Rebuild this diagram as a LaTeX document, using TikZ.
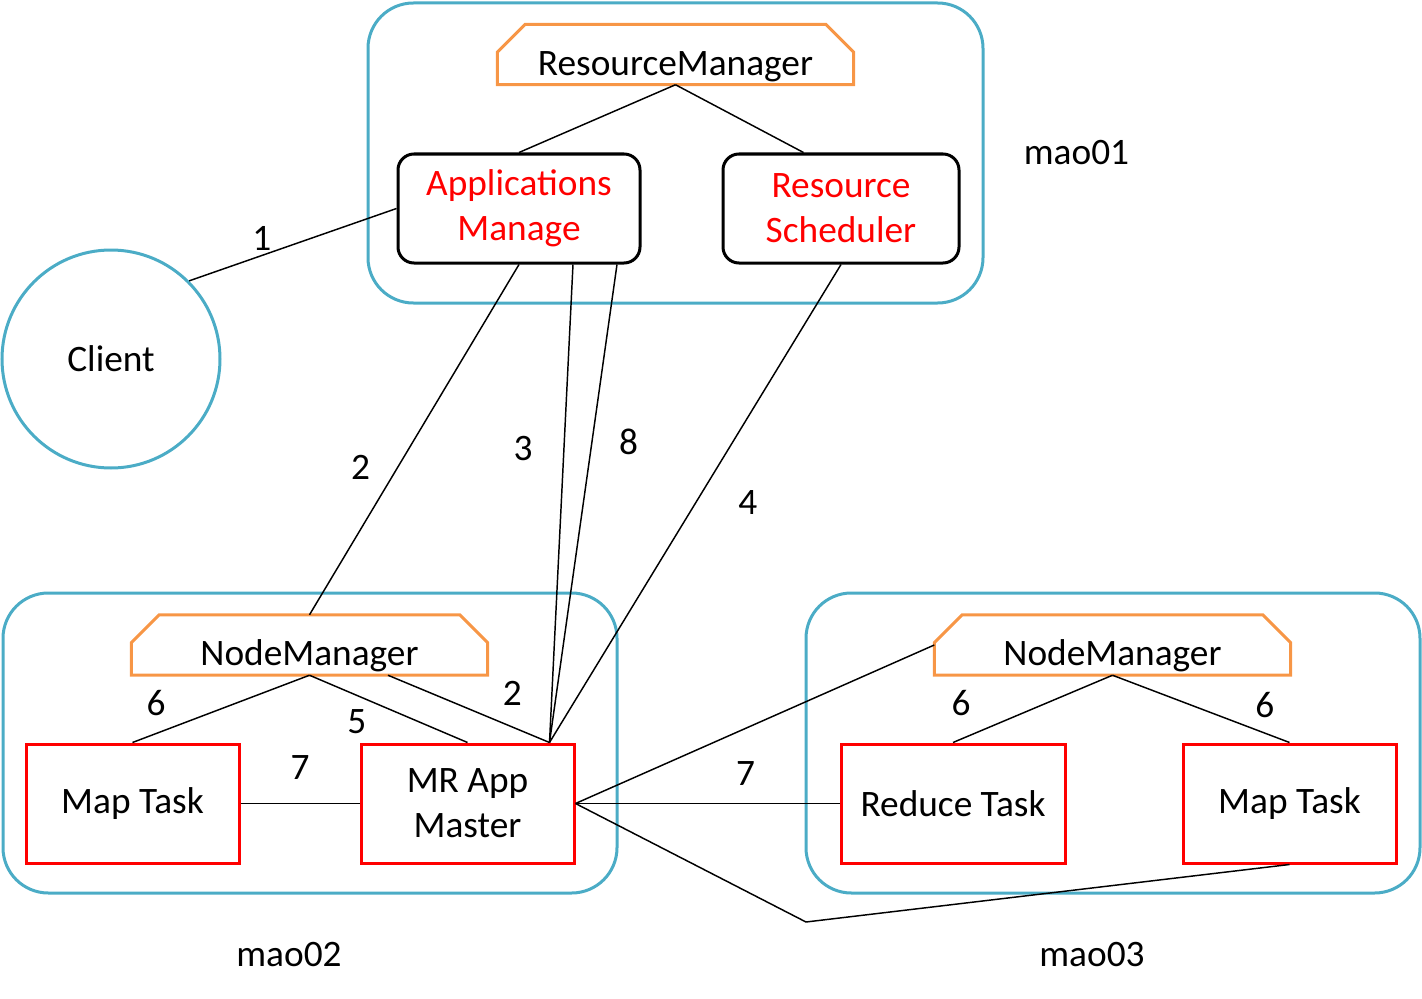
\documentclass[tikz,border=0pt]{standalone}
\usepackage{fontspec}
\setmainfont{Carlito}
\usepackage{tikz}
\usetikzlibrary{positioning, calc}
\definecolor{hostblue}{HTML}{4BACC6}
\definecolor{mgrorange}{HTML}{F79646}
\tikzset{
    host/.style={draw=hostblue, line width=2.25pt, rounded corners=34pt, minimum height=225pt},
    hostname/.style={inner sep=0pt},
    manager/.style={inner sep=0pt, minimum width=266.25pt, minimum height=44.25pt,
        text height=36pt, text depth=5pt},
    mgrline/.style={draw=mgrorange, line width=2.25pt},
    ctrl/.style={draw, line width=2.25pt, rounded corners=12pt, text=red, align=center,
        minimum width=181.5pt, minimum height=81.75pt},
    task/.style={draw=red, line width=2.25pt, align=center, minimum width=159.75pt, minimum height=89.25pt},
    client/.style={circle, draw=hostblue, line width=2.25pt, minimum size=163.5pt},
    num/.style={inner sep=0pt},
}
% outline with the two top corners cut off
\newcommand{\mgrframe}[1]{%
    \draw[mgrline] ([yshift=-21pt]#1.north west) -- ([xshift=21pt]#1.north west)
        -- ([xshift=-21pt]#1.north east) -- ([yshift=-21pt]#1.north east)
        -- (#1.south east) -- (#1.south west) -- cycle;}

\begin{document}
\begin{tikzpicture}[x=0.75pt, y=-0.75pt, line width=1.1pt, font=\fontsize{28}{33.75}\selectfont]
    \useasboundingbox (0,0) rectangle (1422,999);

    % hosts
    \node[host, minimum width=461.25pt] (box1) at (675.5,153) {};
    \node[host, minimum width=460.5pt] (box2) at (310,743) {};
    \node[host, minimum width=460.5pt] (box3) at (1113,743) {};
    \node[hostname, right=29pt of box1] (name1) {mao01};
    \node[hostname, below=35pt of box2, xshift=-15.75pt] (name2) {mao02};
    \node[hostname, below=35pt of box3, xshift=-15.75pt] (name3) {mao03};

    \node[manager] (rm) at (675.5,54.5) {ResourceManager};
    \mgrframe{rm}
    \node[ctrl] (am) at (519,208.5) {Applications\\Manage};
    \node[ctrl, minimum width=177pt] (rs) at (841,208.5) {Resource\\Scheduler};
    \node[client] (cl) at (111,359) {Client};

    \node[manager] (nm2) at (309.5,645) {NodeManager};
    \mgrframe{nm2}
    \node[task] (mt2) at (132.5,803.5) {Map Task};
    \node[task] (mr) at (467.5,803.5) {MR App\\Master};

    \node[manager] (nm3) at (1112.5,645) {NodeManager};
    \mgrframe{nm3}
    \node[task, minimum width=168pt] (rt) at (953,803.5) {Reduce Task};
    \node[task] (mt3) at (1289.5,803.5) {Map Task};

    \coordinate (mrtop) at ([xshift=-19.5pt]mr.north east);
    \coordinate (bend) at (806,922);

    \draw (rm.south) -- (am.north);
    \draw (rm.south) -- ([xshift=61.5pt]rs.north west);
    \draw (cl.45) -- node[num, pos=0.35, yshift=13pt]{1} (am.west);

    \draw (am.south) -- node[num, pos=0.58, xshift=-27.75pt]{2} (nm2.north);
    \draw ([xshift=40.5pt]am.south) -- node[num, pos=0.384, xshift=-30.75pt]{3} (mrtop);
    \draw ([xshift=73.5pt]am.south) -- node[num, pos=0.371, xshift=27.5pt]{8} (mrtop);
    \draw (rs.south) -- node[num, pos=0.498, xshift=39pt]{4} (mrtop);

    \draw (nm2.south) -- node[num, pos=0.867, yshift=23pt]{6} (mt2.north);
    \draw (nm2.south) -- node[num, pos=0.3, yshift=-20pt]{5} (mr.north);
    \draw ([xshift=58.875pt]nm2.south) -- node[num, pos=0.77, yshift=25.5pt]{2} (mrtop);
    \draw (mt2.east) -- node[num, midway, yshift=27pt]{7} (mr.west);

    \draw (mr.east) -- (nm3.west);
    \draw (mr.east) -- node[num, pos=0.644, yshift=22.5pt]{7} (rt.west);
    \draw (mr.east) -- (bend) -- (mt3.south);
    \draw (nm3.south) -- node[num, pos=0.95, yshift=27pt]{6} (rt.north);
    \draw (nm3.south) -- node[num, pos=0.86, yshift=21pt]{6} (mt3.north);
\end{tikzpicture}
\end{document}
